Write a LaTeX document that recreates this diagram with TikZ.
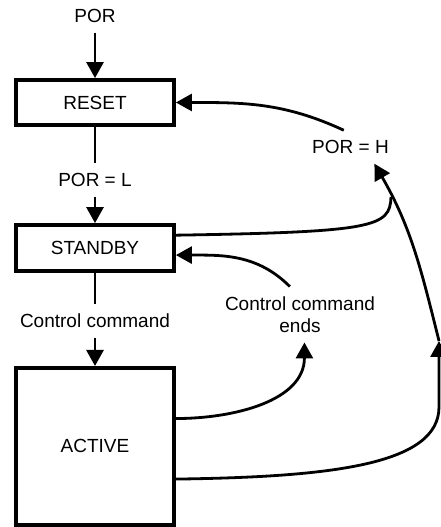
\documentclass[tikz,border=0pt]{standalone}
\usepackage{fontspec}
\setmainfont{Liberation Sans}
\usetikzlibrary{arrows.meta}

\begin{document}
\begin{tikzpicture}[x=1pt, y=1pt,
  font=\fontsize{19}{22}\selectfont,
  state/.style={draw, line width=3.8pt, minimum width=158pt, inner sep=0pt},
  cond/.style={inner sep=10pt, outer sep=0pt},
  conn/.style={line width=2.8pt},
  arr/.style={conn, -{Triangle[length=16pt, width=17pt]}}]
\useasboundingbox (0,0) rectangle (440,527);
%\draw[very thin,color=gray] (0,0) grid[step=20] (440,527);
\node[state, minimum height=45pt] (reset) at (95,424.5) {RESET};
\node[state, minimum height=46pt] (standby) at (95,279) {STANDBY};
\node[state, minimum height=157pt] (active) at (95,80.6) {ACTIVE};
\node[cond] (por) at (95,511) {POR};
\node[cond] (porl) at (95,347) {POR = L};
\node[cond] (ctrl) at (95,206) {Control command};
\node[cond] (porh) at (350.5,380) {POR = H};
\node[cond, align=center] (ends) at (300,212.5) {Control command\\ends};
\coordinate (jr) at (439,186);
\coordinate (merge) at (391,330);
\draw[arr] (por) -- (reset);
\draw[conn] (reset) -- (porl);
\draw[arr] (porl) -- (standby);
\draw[conn] (standby) -- (ctrl);
\draw[arr] (ctrl) -- (active);
\draw[arr] (porh.112) to[out=155, in=0] (reset.east);
\draw[conn] (standby.9) .. controls (375,295) and (390,300) .. (merge);
\draw[arr] (jr) to[out=104, in=-60] (porh.-35);
\draw[arr] (active.-22) .. controls (330,50) and (439,62) .. (439,120) -- (jr);
\draw[arr] (active.19) to[out=0, in=-90] (ends.-81);
\draw[arr] (ends.110) to[out=135, in=0] (standby.-5);
\end{tikzpicture}
\end{document}
